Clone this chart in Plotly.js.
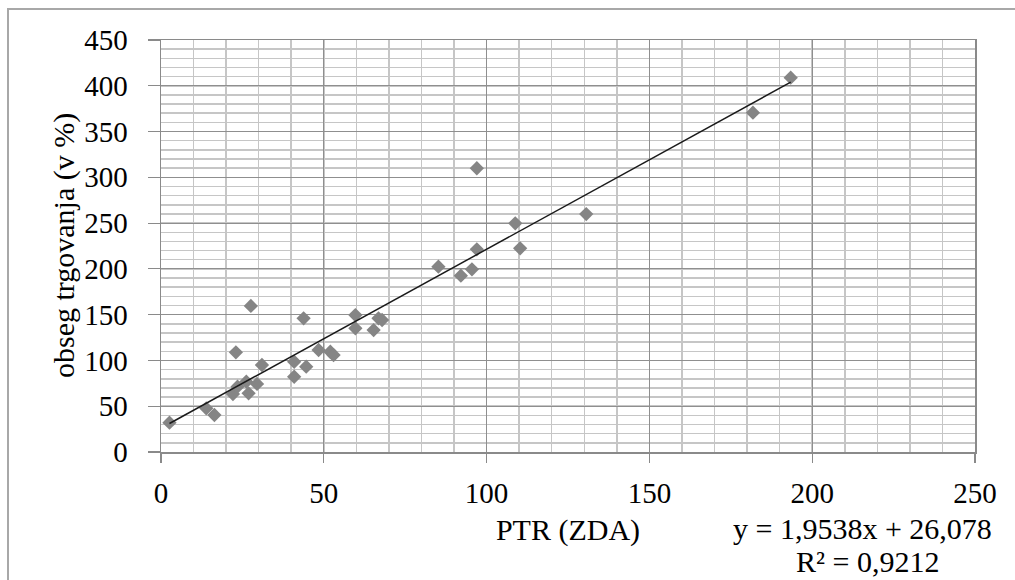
<!DOCTYPE html>
<html>
<head>
<meta charset="utf-8">
<script src="https://cdn.plot.ly/plotly-3.0.1.min.js"></script>
<style>
  html, body { margin: 0; padding: 0; background: #fff; }
  #chart { width: 1015px; height: 580px; }
</style>
</head>
<body>
<div id="chart"></div>
<script>
// PTR (ZDA) against trade volume (v %)
const ptr = [2.6, 13.9, 16.4, 22.1, 23.5, 26.2, 26.9, 29.5, 23.0, 27.6, 31.0,
             40.9, 40.9, 44.6, 43.8, 48.4, 52.0, 53.0, 59.7, 59.7, 65.3, 66.8,
             67.9, 85.2, 92.1, 95.5, 97.0, 97.0, 108.8, 110.3, 130.6, 181.8, 193.4];
const obseg = [32.0, 47.7, 40.4, 63.3, 71.3, 76.8, 64.1, 74.3, 108.9, 159.5, 95.0,
               98.6, 82.2, 93.2, 146.0, 111.4, 109.5, 105.9, 149.6, 135.1, 133.2, 146.0,
               144.2, 202.4, 192.6, 199.5, 309.9, 221.4, 249.8, 222.5, 259.9, 370.6, 408.8];

// Linear trend: y = slope * x + intercept
const slope = [1.9538];
const intercept = [26.078];
const rSquared = [0.9212];

const xTicks = [0, 50, 100, 150, 200, 250];
const yTicks = [0, 50, 100, 150, 200, 250, 300, 350, 400, 450];

const fmt = (v, d) => v.toFixed(d).replace('.', ',');

const xMin = Math.min(...ptr), xMax = Math.max(...ptr);
const trendX = [xMin, xMax];
const trendY = trendX.map(x => slope[0] * x + intercept[0]);

const W = 1015, H = 580;
const M = { l: 161, r: 40, t: 40, b: 128 };
const pw = W - M.l - M.r, ph = H - M.t - M.b;
const px2paperX = px => (px - M.l) / pw;
const py2paperY = py => (H - M.b - py) / ph;

const serif = '"Liberation Serif", "Times New Roman", Times, "DejaVu Serif", serif';

const traces = [
  {
    type: 'scatter', mode: 'markers', x: ptr, y: obseg,
    marker: { symbol: 'diamond', size: 11, color: '#858585', line: { width: 0 } },
    hoverinfo: 'x+y', showlegend: false
  },
  {
    type: 'scatter', mode: 'lines', x: trendX, y: trendY,
    line: { color: '#1a1a1a', width: 1.5 },
    hoverinfo: 'skip', showlegend: false
  }
];

const layout = {
  width: W, height: H,
  margin: M,
  paper_bgcolor: '#ffffff', plot_bgcolor: '#ffffff',
  font: { family: serif, size: 29, color: '#000000' },
  showlegend: false,
  xaxis: {
    range: [0, 250], tickvals: xTicks, ticktext: xTicks.map(String),
    showgrid: true, gridcolor: '#8f8f8f', gridwidth: 1.2,
    minor: { dtick: 10, showgrid: true, gridcolor: '#c6c6c6', gridwidth: 1.5, ticks: '' },
    ticks: 'outside', ticklen: 9, tickcolor: '#8a8a8a', tickwidth: 1.2,
    ticklabelstandoff: 6,
    showline: true, linecolor: '#8a8a8a', linewidth: 1.5, mirror: true,
    zeroline: false, fixedrange: true,
    tickfont: { family: serif, size: 29, color: '#000' },
    title: { text: 'PTR (ZDA)', font: { family: serif, size: 30, color: '#000' }, standoff: 10 }
  },
  yaxis: {
    range: [0, 450], tickvals: yTicks, ticktext: yTicks.map(String),
    showgrid: true, gridcolor: '#8f8f8f', gridwidth: 1.2,
    minor: { dtick: 10, showgrid: true, gridcolor: '#c6c6c6', gridwidth: 1.5, ticks: '' },
    ticks: 'outside', ticklen: 12, tickcolor: '#8a8a8a', tickwidth: 1.2,
    ticklabelstandoff: 14,
    showline: true, linecolor: '#8a8a8a', linewidth: 1.5, mirror: true,
    zeroline: false, fixedrange: true,
    tickfont: { family: serif, size: 29, color: '#000' }
  },
  annotations: [
    {
      // y-axis title, rotated
      xref: 'paper', yref: 'paper', x: px2paperX(64), y: 0.5,
      xanchor: 'center', yanchor: 'middle', showarrow: false, textangle: -90,
      text: 'obseg trgovanja (v %)',
      font: { family: serif, size: 30, color: '#000' }
    },
    {
      xref: 'paper', yref: 'paper', x: px2paperX(862), y: py2paperY(528),
      xanchor: 'center', yanchor: 'middle', showarrow: false,
      text: 'y = ' + fmt(slope[0], 4) + 'x + ' + fmt(intercept[0], 3),
      font: { family: serif, size: 30, color: '#000' }
    },
    {
      xref: 'paper', yref: 'paper', x: px2paperX(867), y: py2paperY(561),
      xanchor: 'center', yanchor: 'middle', showarrow: false,
      text: 'R² = ' + fmt(rSquared[0], 4),
      font: { family: serif, size: 30, color: '#000' }
    }
  ],
  shapes: [
    {
      type: 'rect', xref: 'paper', yref: 'paper', layer: 'below',
      x0: px2paperX(8), x1: px2paperX(W + 20),
      y0: py2paperY(H + 20), y1: py2paperY(9),
      line: { color: '#a8a8a8', width: 2 }, fillcolor: 'rgba(0,0,0,0)'
    }
  ]
};

Plotly.newPlot('chart', traces, layout, { displayModeBar: false, staticPlot: true });
</script>
</body>
</html>
